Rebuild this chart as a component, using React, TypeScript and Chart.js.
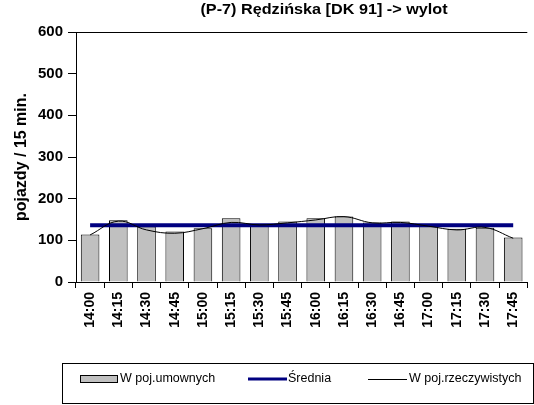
import React, { useEffect, useRef } from "react";
import { Chart, registerables } from "chart.js";

Chart.register(...registerables);

const TITLE = "(P-7) Rędzińska [DK 91] -> wylot";
const Y_TITLE = "pojazdy / 15 min.";
const categories = ["14:00", "14:15", "14:30", "14:45", "15:00", "15:15", "15:30", "15:45", "16:00", "16:15", "16:30", "16:45", "17:00", "17:15", "17:30", "17:45"];
const umownych = [114, 148, 133, 121, 129, 153, 135, 145, 153, 157, 143, 145, 138, 128, 130, 107];
const srednia = [136, 136, 136, 136, 136, 136, 136, 136, 136, 136, 136, 136, 136, 136, 136, 136];
const rzeczywistych = [113, 146, 125, 117, 128, 143, 137, 142, 149, 157, 142, 143, 134, 125, 131, 105];
const seriesNames = ["W poj.umownych", "Średnia", "W poj.rzeczywistych"];

const FONT = "Arial, 'Liberation Sans', sans-serif";

const overlay = {
  id: "overlay",
  afterDraw(chart: any) {
    const ctx = chart.ctx;
    ctx.save();
    // title
    ctx.fillStyle = "#000";
    ctx.font = `bold 15px ${FONT}`;
    ctx.textAlign = "center";
    ctx.textBaseline = "middle";
    ctx.save();
    ctx.translate(324, 10);
    ctx.scale(1.08, 1);
    ctx.fillText(TITLE, 0, 0);
    ctx.restore();
    // legend box
    ctx.strokeStyle = "#000";
    ctx.lineWidth = 1;
    ctx.strokeRect(62.5, 363.5, 471, 40);
    const cy = 379;
    // bar swatch
    ctx.fillStyle = "#c0c0c0";
    ctx.fillRect(80, 375, 38, 8);
    ctx.strokeRect(80.5, 375.5, 37, 7);
    // blue line
    ctx.strokeStyle = "#000080";
    ctx.lineWidth = 3;
    ctx.beginPath();
    ctx.moveTo(248, cy);
    ctx.lineTo(287, cy);
    ctx.stroke();
    // thin line
    ctx.strokeStyle = "#000";
    ctx.lineWidth = 1;
    ctx.beginPath();
    ctx.moveTo(368, cy + 0.5);
    ctx.lineTo(407, cy + 0.5);
    ctx.stroke();
    ctx.fillStyle = "#000";
    ctx.font = `12.5px ${FONT}`;
    ctx.textAlign = "left";
    ctx.textBaseline = "middle";
    ctx.fillText(seriesNames[0], 120, cy);
    ctx.fillText(seriesNames[1], 288, cy);
    ctx.fillText(seriesNames[2], 409, cy);
    ctx.restore();
  },
};

export default function App() {
  const ref = useRef<HTMLCanvasElement>(null);
  useEffect(() => {
    document.body.style.margin = "0";
    const chart = new Chart(ref.current!, {
      type: "bar",
      data: {
        labels: categories,
        datasets: [
          {
            type: "bar",
            label: seriesNames[0],
            data: umownych,
            backgroundColor: "#c0c0c0",
            borderColor: "#000",
            borderWidth: 1,
            barPercentage: 0.66,
            categoryPercentage: 1,
            order: 3,
          },
          {
            type: "line",
            label: seriesNames[1],
            data: srednia,
            borderColor: "#000080",
            borderWidth: 4,
            pointRadius: 0,
            tension: 0,
            order: 2,
          },
          {
            type: "line",
            label: seriesNames[2],
            data: rzeczywistych,
            borderColor: "#000",
            borderWidth: 1,
            pointRadius: 0,
            tension: 0.4,
            order: 1,
          },
        ] as any,
      },
      options: {
        animation: false,
        responsive: false,
        maintainAspectRatio: false,
        layout: { padding: { top: 32, left: 0, right: 0, bottom: 0 } },
        plugins: { legend: { display: false }, title: { display: false }, tooltip: { enabled: false } },
        scales: {
          x: {
            grid: { drawOnChartArea: false, color: "#000", tickLength: 6, offset: true },
            border: { color: "#000", width: 1 },
            ticks: {
              color: "#000",
              font: { family: FONT, weight: "bold", size: 14 },
              minRotation: 90,
              maxRotation: 90,
              autoSkip: false,
              padding: 4,
            },
            afterFit: (s: any) => {
              s.height = 123;
            },
          },
          y: {
            min: 0,
            max: 600,
            ticks: {
              stepSize: 100,
              color: "#000",
              font: { family: FONT, weight: "bold", size: 15 },
              padding: 5,
            },
            grid: {
              color: (c: any) => (c.tick && c.tick.value === 600 ? "#000" : "rgba(0,0,0,0)"),
              tickColor: "#000",
              tickLength: 8,
            },
            border: { color: "#000", width: 1 },
            title: {
              display: true,
              text: Y_TITLE,
              color: "#000",
              font: { family: FONT, weight: "bold", size: 16 },
              padding: { top: 12, bottom: 0 },
            },
            afterFit: (s: any) => {
              s.width = 76;
            },
          },
        },
      },
      plugins: [overlay],
    });
    return () => chart.destroy();
  }, []);
  return (
    <div style={{ position: "absolute", left: 0, top: 0, width: 534, height: 405 }}>
      <canvas ref={ref} width={534} height={405} style={{ width: 534, height: 405 }} />
    </div>
  );
}
